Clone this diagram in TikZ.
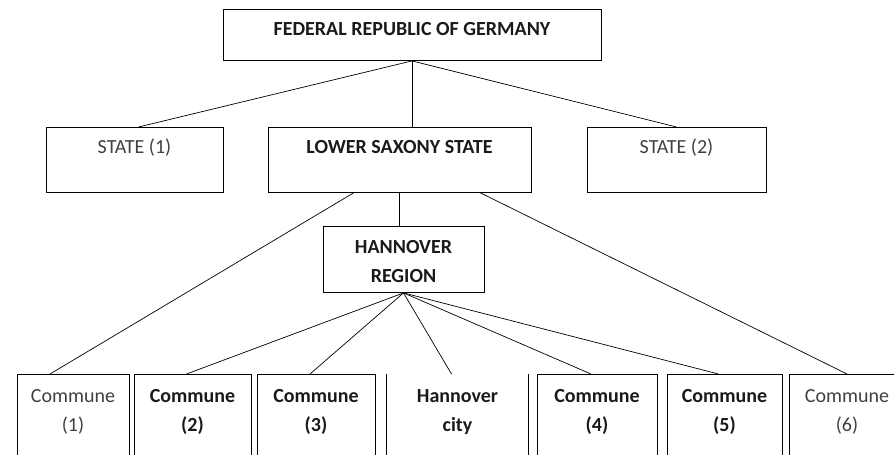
\documentclass[tikz,border=0pt]{standalone}
\usepackage{fontspec}
\setmainfont{Carlito}
\definecolor{txtgray}{HTML}{404040}
\definecolor{txtdark}{HTML}{1A1A1A}
\tikzset{
  unit/.style={draw, line width=0.9pt, inner xsep=0pt, inner ysep=0pt, anchor=north,
    align=center, font=\fontsize{20}{29}\selectfont},
  plain/.style={text=txtgray},
  heavy/.style={text=txtdark, font=\fontsize{20}{29}\selectfont\bfseries},
  land/.style={unit, text height=26pt, text depth=39pt},
  commune/.style={unit, text height=57pt, text depth=39pt},
  link/.style={line width=0.7pt},
}
\begin{document}
\begin{tikzpicture}[x=1pt,y=-1pt]
\useasboundingbox (0,0) rectangle (894,455);

\node[unit,heavy,minimum width=378pt,text height=26pt,text depth=25pt] (fed) at (412,9) {FEDERAL REPUBLIC OF GERMANY};

\node[land,plain,minimum width=177pt] (stateA) at (134.5,127) {STATE (1)};
\node[land,heavy,minimum width=263pt] (saxony) at (399.5,127) {LOWER SAXONY STATE};
\node[land,plain,minimum width=179pt] (stateB) at (676.5,127) {STATE (2)};

\node[unit,heavy,minimum width=161pt,text height=56pt,text depth=10pt] (region) at (403.5,226) {HANNOVER\\REGION};

\node[commune,plain,minimum width=112pt] (comA) at (73,374) {Commune\\(1)};
\node[commune,heavy,minimum width=117pt] (comB) at (192.5,374) {Commune\\(2)};
\node[commune,heavy,minimum width=118pt] (comC) at (316,374) {Commune\\(3)};
\node[commune,heavy,draw=none,minimum width=141pt] (city) at (457.5,374) {Hannover\\city};
\node[commune,heavy,minimum width=120pt] (comD) at (597,374) {Commune\\(4)};
\node[commune,heavy,minimum width=115pt] (comE) at (724.5,374) {Commune\\(5)};
\node[commune,plain,minimum width=116pt] (comF) at (847,374) {Commune\\(6)};
\draw[line width=0.9pt] (city.north west) -- (city.south west);
\draw[line width=0.9pt] (city.north east) -- (city.south east);

\draw[link] (fed.south) -- ([xshift=4pt]stateA.north);
\draw[link] (fed.south) -- (stateB.north);
\draw[link] (fed.south) -- (fed.south |- saxony.north);
\draw[link] (saxony.south) -- (saxony.south |- region.north);
\draw[link] ([xshift=-46pt]saxony.south) -- ([xshift=-23pt]comA.north);
\draw[link] ([xshift=81pt]saxony.south) -- (comF.north);
\foreach \c in {comB,comC,city,comD,comE}
  \draw[link] (region.south) -- ([xshift=-6pt]\c.north);
\end{tikzpicture}
\end{document}
